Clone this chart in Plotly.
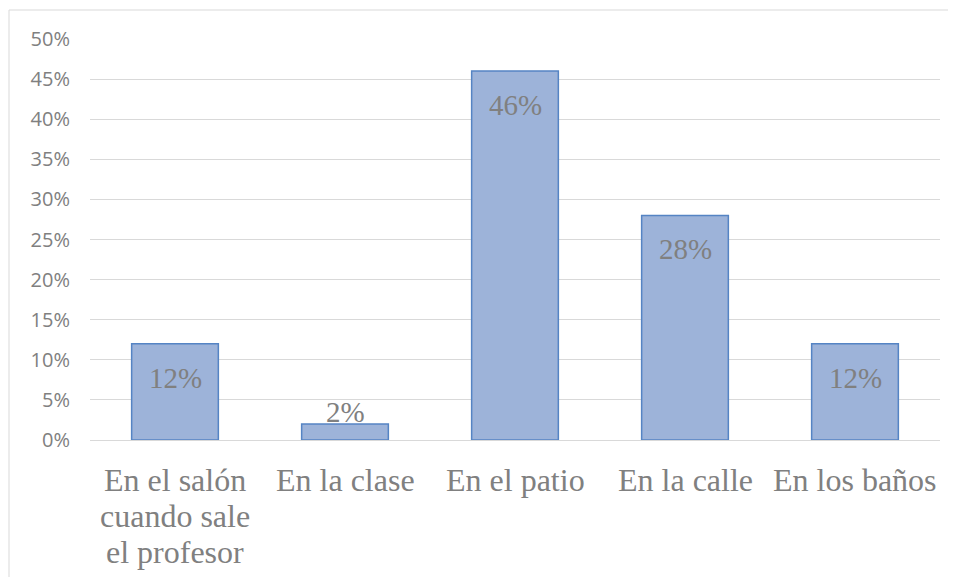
import plotly.graph_objects as go

categories = ["En el salón<br>cuando sale<br>el profesor", "En la clase", "En el patio", "En la calle", "En los baños"]
values = [12, 2, 46, 28, 12]
y_ticks = [0, 5, 10, 15, 20, 25, 30, 35, 40, 45, 50]
y_tick_labels = [f"{v}%" for v in y_ticks]
data_labels = [f"{v}%" for v in values]

W, H = 956, 577
OFF = 8  # page body margin
ML, MR, MT, MB = 90 - OFF, 16 + OFF, 39 - OFF, 137 + OFF
plot_h = H - MT - MB
plot_w = W - ML - MR
px_per_unit = plot_h / 50.0

fig = go.Figure()
fig.add_trace(go.Bar(
    x=categories, y=values,
    marker=dict(color="#9db3d9", line=dict(color="#5584c4", width=1.5)),
    hoverinfo="skip",
))

annotations = []
for c, v, t in zip(categories, values, data_labels):
    shift = -min(34, v * px_per_unit - 28)
    annotations.append(dict(
        x=c, y=v, xref="x", yref="y", text=t, showarrow=False,
        yanchor="middle", yshift=shift,
        font=dict(family="Liberation Serif", size=29, color="#808080"),
    ))

# category labels, one annotation per line for tighter line spacing
for c in categories:
    for i, line in enumerate(c.split("<br>")):
        annotations.append(dict(
            x=c, y=0, xref="x", yref="paper", text=line, showarrow=False,
            yanchor="middle", yshift=-40 - 36 * i,
            font=dict(family="Liberation Serif", size=32, color="#808080"),
        ))

fig.update_layout(
    width=W, height=H,
    margin=dict(l=ML, r=MR, t=MT, b=MB),
    paper_bgcolor="white", plot_bgcolor="white",
    bargap=0.49,
    showlegend=False,
    annotations=annotations,
    shapes=[dict(
        type="rect", xref="paper", yref="paper",
        x0=(9 - OFF - ML) / plot_w, x1=(W + 4 - ML) / plot_w,
        y0=-(MB + 4) / plot_h, y1=(H - MB - (10 - OFF)) / plot_h,
        line=dict(color="#d9d9d9", width=1), fillcolor="rgba(0,0,0,0)", layer="below",
    )],
    xaxis=dict(
        showgrid=False, zeroline=False, showline=False, ticks="",
        showticklabels=False,
    ),
    yaxis=dict(
        range=[0, 50], tickvals=y_ticks, ticktext=y_tick_labels,
        showgrid=True, gridcolor="#d9d9d9", gridwidth=1,
        zeroline=True, zerolinecolor="#d9d9d9", zerolinewidth=1,
        showline=False, ticks="",
        tickfont=dict(family="Open Sans", size=20, color="#808080"),
        ticklabelstandoff=19,
    ),
)

fig.write_html("out.html")
